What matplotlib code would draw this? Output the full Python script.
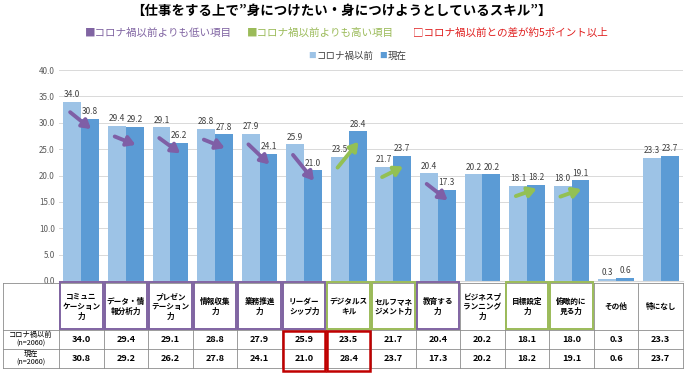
import matplotlib
matplotlib.use("Agg")
import matplotlib.pyplot as plt
from matplotlib.patches import Rectangle
import numpy as np

plt.rcParams['font.family'] = ['Noto Sans CJK JP', 'DejaVu Sans']

# --- Data ---
labels = ["コミュニ\nケーション\n力", "データ・情\n報分析力", "プレゼン\nテーション\n力", "情報収集\n力",
          "業務推進\n力", "リーダー\nシップ力", "デジタルス\nキル", "セルフマネ\nジメント力",
          "教育する\n力", "ビジネスプ\nランニング\n力", "目標設定\n力", "俯瞰的に\n見る力",
          "その他", "特になし"]
before = [34.0, 29.4, 29.1, 28.8, 27.9, 25.9, 23.5, 21.7, 20.4, 20.2, 18.1, 18.0, 0.3, 23.3]
now = [30.8, 29.2, 26.2, 27.8, 24.1, 21.0, 28.4, 23.7, 17.3, 20.2, 18.2, 19.1, 0.6, 23.7]
trend = ['down', 'down', 'down', 'down', 'down', 'down', 'up', 'up',
         'down', None, 'up', 'up', None, None]
series_names = ["コロナ禍以前", "現在"]
row_names = ["コロナ禍以前\n(n=2060)", "現在\n(n=2060)"]

# --- Colors ---
c_before = '#9DC3E6'
c_now = '#5B9BD5'
c_down = '#7F5FA6'
c_up = '#93C054'
c_red = '#C00000'
frame_col = {'down': '#8064A2', 'up': '#9BBB59', None: '#7F7F7F'}

W, H = 686, 378
fig = plt.figure(figsize=(W / 100, H / 100), dpi=100)

# main bar axes (pixel layout)
x0, x1, ytop, ybot = 59, 683, 70, 281
ax = fig.add_axes([x0 / W, 1 - ybot / H, (x1 - x0) / W, (ybot - ytop) / H])
n = len(before)
x = np.arange(n)
bw = 0.4
ax.bar(x - bw / 2, before, bw, color=c_before, zorder=2)
ax.bar(x + bw / 2, now, bw, color=c_now, zorder=2)
for i in range(n):
    ax.text(i - bw / 2, before[i] + 0.5, f"{before[i]:.1f}", ha='center', va='bottom', fontsize=6, color='#404040', zorder=4)
    ax.text(i + bw / 2, now[i] + 0.5, f"{now[i]:.1f}", ha='center', va='bottom', fontsize=6, color='#404040', zorder=4)

# trend arrows
for i in range(n):
    if trend[i] is None:
        continue
    d = now[i] - before[i]
    if abs(d) < 1.4:
        d = 1.4 if d >= 0 else -1.6
    ys = before[i] - 2.0
    ax.annotate('', xy=(i + 0.22, ys + d), xytext=(i - 0.25, ys),
                arrowprops=dict(arrowstyle='-|>,head_length=0.5,head_width=0.3',
                                lw=2.8, color=c_down if trend[i] == 'down' else c_up,
                                shrinkA=0, shrinkB=0), zorder=5)

ax.set_xlim(-0.5, n - 0.5)
ax.set_ylim(0, 40)
ax.set_yticks(np.arange(0, 41, 5))
ax.set_yticklabels([f"{v:.1f}" for v in np.arange(0, 41, 5)], fontsize=5.8, color='#595959')
ax.set_xticks([])
ax.grid(axis='y', color='#D9D9D9', lw=0.7, zorder=0)
for s in ['top', 'right', 'left']:
    ax.spines[s].set_visible(False)
ax.spines['bottom'].set_color('#D9D9D9')
ax.tick_params(axis='y', length=0, pad=3)

# overlay in pixel coordinates for titles and table
ov = fig.add_axes([0, 0, 1, 1])
ov.set_xlim(0, W)
ov.set_ylim(H, 0)
ov.axis('off')

ov.text(341, 11, "【仕事をする上で”身につけたい・身につけようとしているスキル”】",
        ha='center', va='center', fontsize=9.7, fontweight='bold', color='#000000')
ov.text(85, 33, "■コロナ禍以前よりも低い項目", ha='left', va='center', fontsize=7.6, color='#8064A2')
ov.text(247, 33, "■コロナ禍以前よりも高い項目", ha='left', va='center', fontsize=7.6, color='#9BBB59')
ov.text(413, 33, "□コロナ禍以前との差が約5ポイント以上", ha='left', va='center', fontsize=7.6, color='#E02020')
ov.text(308, 56, "■", ha='left', va='center', fontsize=5.5, color=c_before)
ov.text(317, 56, series_names[0], ha='left', va='center', fontsize=6.8, color='#404040')
ov.text(379, 56, "■", ha='left', va='center', fontsize=5.5, color=c_now)
ov.text(388, 56, series_names[1], ha='left', va='center', fontsize=6.8, color='#404040')

# --- table ---
tl, tr = 3, 683
t0, t1, t2, t3 = 283, 330, 349, 368
cw = (x1 - x0) / n
grid = '#8C8C8C'
for yy in [t0, t1, t2, t3]:
    ov.plot([tl, tr], [yy, yy], color=grid, lw=0.6)
for xx in [tl, x0] + [x0 + (i + 1) * cw for i in range(n)]:
    ov.plot([xx, xx], [t0, t3], color=grid, lw=0.6)

ov.text((tl + x0) / 2, (t1 + t2) / 2, row_names[0], ha='center', va='center', fontsize=5.2, linespacing=1.1)
ov.text((tl + x0) / 2, (t2 + t3) / 2, row_names[1], ha='center', va='center', fontsize=5.2, linespacing=1.1)

for i in range(n):
    cx = x0 + (i + 0.5) * cw
    ov.text(cx, (t0 + t1) / 2, labels[i], ha='center', va='center', fontsize=5.5,
            fontweight='bold', linespacing=1.15)
    ov.text(cx, (t1 + t2) / 2, f"{before[i]:.1f}", ha='center', va='center', fontsize=6.6, fontweight='bold')
    ov.text(cx, (t2 + t3) / 2, f"{now[i]:.1f}", ha='center', va='center', fontsize=6.6, fontweight='bold')
    if trend[i] is not None:
        ov.add_patch(Rectangle((x0 + i * cw + 1, t0 - 1), cw - 2, t1 - t0, fill=False,
                               ec=frame_col[trend[i]], lw=1.4, zorder=3))
    if abs(now[i] - before[i]) >= 4.5:
        ov.add_patch(Rectangle((x0 + i * cw + 1, t1 + 1), cw - 2, t3 - t1 + 2, fill=False,
                               ec=c_red, lw=1.8, zorder=4))

fig.savefig("out.png", dpi=100)
